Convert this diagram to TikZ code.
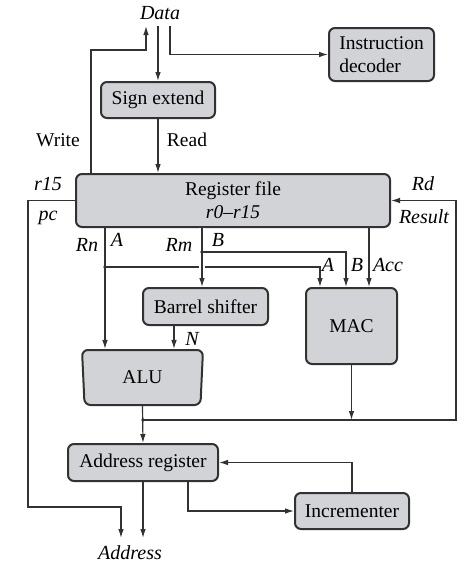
\documentclass[tikz,border=0pt]{standalone}
\usepackage{fontspec}
\setmainfont{Liberation Serif}
\usetikzlibrary{arrows.meta,shapes.geometric,positioning}
\definecolor{boxgray}{RGB}{210,211,214}
\definecolor{edgegray}{RGB}{50,50,50}
\tikzset{
	blk/.style={draw=edgegray, line width=1pt, fill=boxgray, rounded corners=3pt, inner sep=0pt},
	ilbl/.style={inner sep=1pt, font=\itshape},
	lbl/.style={inner sep=1pt},
	wire/.style={draw=edgegray, line width=0.6pt},
	>={Latex[length=4.5pt,width=2.8pt]}
}

\begin{document}
\begin{tikzpicture}[x=0.5pt,y=-0.5pt,font=\fontsize{9.75}{11.5}\selectfont]
	\useasboundingbox (0,0) rectangle (474,568);
	% blocks
	\path (160,13) node (data) [ilbl, inner sep=3pt] {Data}
		  (381.5,54.5) node (dec) [blk, minimum width=52.5pt, minimum height=26.5pt, align=left] {Instruction\\decoder}
		  (158,100) node (sign) [blk, minimum width=57pt, minimum height=18pt] {Sign extend}
		  (233,200.5) node (reg) [blk, minimum width=157pt, minimum height=26.5pt, align=center] {Register file\\\textit{r0--r15}}
		  (205.5,306.5) node (barrel) [blk, minimum width=62.5pt, minimum height=18.5pt] {Barrel shifter}
		  (351.5,326) node (mac) [blk, minimum width=45.5pt, minimum height=38pt] {MAC}
		  (142.5,377.5) node (alu) [blk, shape=trapezium, trapezium angle=79, shape border rotate=180, trapezium stretches body=true, minimum width=60.5pt, minimum height=27.5pt] {ALU}
		  (143,462.5) node (addr) [blk, minimum width=75pt, minimum height=18.5pt] {Address register}
		  (352,511) node (inc) [blk, minimum width=57pt, minimum height=18pt] {Incrementer}
		  (130,553) node (address) [ilbl] {Address};
	% free ends and junctions
	\coordinate (wr) at (146,50);
	\coordinate (pcbend) at (28,507);
	\coordinate (pcend) at (121,538);
	\coordinate (addrend) at (143,538);
	\coordinate (ra) at (105,267);
	\coordinate (rb) at (202,252);
	\coordinate (res) at (143,420);
	\coordinate (resbend) at (456,420);
	% data bus
	\draw[wire,->] (reg.north -| 91,0) |- (wr) -- (wr |- data.south);
	\draw[wire,->] (data.south -| sign.north) -- (sign.north);
	\draw[wire,->] (data.south -| 170,0) |- (dec.west);
	\draw[wire,->] (sign.south) -- (reg.north -| sign.south);
	% register file outputs
	\draw[wire,->] (reg.south -| ra) -- (alu.north -| ra);
	\draw[wire,->] (ra) -| (mac.north -| 320,0);
	\draw[wire,->, preaction={draw=white, line width=3pt, arrows=-}] (reg.south -| rb) -- (barrel.north -| rb);
	\draw[wire,->] (rb) -| (mac.north -| 346,0);
	\draw[wire,->] (reg.south -| 369,0) -- (mac.north -| 369,0);
	\draw[wire,->] (barrel.south -| 174,0) -- (alu.north -| 174,0);
	% result bus
	\draw[wire,->] (alu.south) -- (addr.north);
	\draw[wire,->] (mac.south) -- (mac.south |- res);
	\draw[wire,->] (res) -- (resbend) |- (reg.east);
	% address
	\draw[wire,->] (reg.west) -| (pcbend) -| (pcend);
	\draw[wire,->] (addr.south) -- (addrend);
	\draw[wire,->] (addr.south -| 188,0) |- (inc.west);
	\draw[wire,->] (inc.north) |- (addr.east);
	% junction dots
	\fill[edgegray] (ra) circle (0.9pt);
	\fill[edgegray] (rb) circle (0.9pt);
	\fill[edgegray] (res) circle (0.9pt);
	% labels
	\path (58,140) node (wlbl) [lbl] {Write}
		  (187,140) node (rlbl) [lbl] {Read}
		  (48,184) node (r15) [ilbl] {r15}
		  (48,218) node (pc) [ilbl] {pc}
		  (423,184) node (rd) [ilbl] {Rd}
		  (424,217) node (result) [ilbl] {Result}
		  (87,245) node (rn) [ilbl] {Rn}
		  (117,240) node (a1) [ilbl] {A}
		  (179,245) node (rm) [ilbl] {Rm}
		  (218,240) node (b1) [ilbl] {B}
		  (328,265) node (a2) [ilbl] {A}
		  (357,265) node (b2) [ilbl] {B}
		  (388,265) node (acc) [ilbl] {Acc}
		  (192,339) node (n) [ilbl] {N};
\end{tikzpicture}
\end{document}
